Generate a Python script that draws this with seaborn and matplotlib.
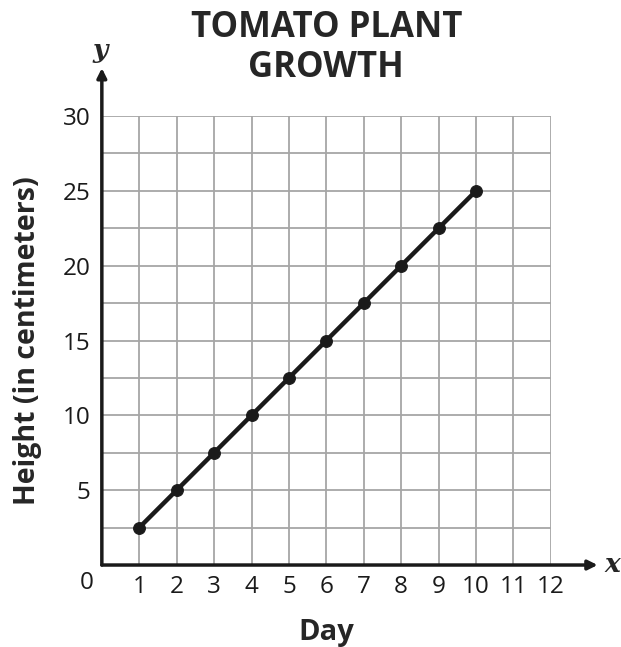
import numpy as np
import pandas as pd
import matplotlib
matplotlib.use("Agg")
import matplotlib.pyplot as plt
import seaborn as sns

# data
days = [1, 2, 3, 4, 5, 6, 7, 8, 9, 10]
heights = [2.5, 5, 7.5, 10, 12.5, 15, 17.5, 20, 22.5, 25]
x_ticks = list(range(1, 13))
y_ticks = [5, 10, 15, 20, 25, 30]

df = pd.DataFrame({"Day": days, "Height": heights})

sns.set_style("white")
plt.rcParams["font.family"] = ["Open Sans", "DejaVu Sans"]

fig = plt.figure(figsize=(6.21, 6.47), dpi=100)
ax = fig.add_axes([0.164, 0.1267, 0.723, 0.694])

sns.lineplot(data=df, x="Day", y="Height", ax=ax, color="#1a1a1a", lw=3.2,
             marker="o", markersize=8.5, markeredgecolor="#1a1a1a", zorder=5)

ax.set_xlim(0, 12)
ax.set_ylim(0, 30)
ax.set_xticks(x_ticks)
ax.set_yticks(y_ticks)
ax.set_xticks(np.arange(0, 12.5, 1), minor=True)
ax.set_yticks(np.arange(0, 30.5, 2.5), minor=True)
ax.grid(True, which="both", color="#a6a6a6", lw=1.3)
ax.tick_params(which="both", length=0, labelsize=17.5, colors="#1a1a1a")
ax.tick_params(axis="x", pad=7)
ax.tick_params(axis="y", pad=8)
for s in ax.spines.values():
    s.set_visible(False)

# axes with arrows
ax.annotate("", xy=(13.25, 0), xytext=(0, 0), annotation_clip=False,
            arrowprops=dict(arrowstyle="-|>", lw=2.5, color="#1a1a1a",
                            mutation_scale=14, shrinkA=0, shrinkB=0))
ax.annotate("", xy=(0, 33.2), xytext=(0, 0), annotation_clip=False,
            arrowprops=dict(arrowstyle="-|>", lw=2.5, color="#1a1a1a",
                            mutation_scale=14, shrinkA=0, shrinkB=0))
ax.text(13.65, 0.05, "x", fontsize=19, fontstyle="italic", fontweight="bold",
        family="DejaVu Serif", ha="center", va="center", clip_on=False)
ax.text(-0.05, 34.4, "y", fontsize=19, fontstyle="italic", fontweight="bold",
        family="DejaVu Serif", ha="center", va="center", clip_on=False)
ax.text(-0.4, -1.2, "0", fontsize=17.5, color="#1a1a1a", ha="center", va="center")

ax.set_xlabel("Day", fontsize=21, fontweight="bold", labelpad=14)
ax.set_ylabel("Height (in centimeters)", fontsize=20.5, fontweight="bold", labelpad=15)
ax.set_title("TOMATO PLANT\nGROWTH", fontsize=25, fontweight="bold", pad=28,
             linespacing=1.15)

fig.savefig("out.png", dpi=100)
